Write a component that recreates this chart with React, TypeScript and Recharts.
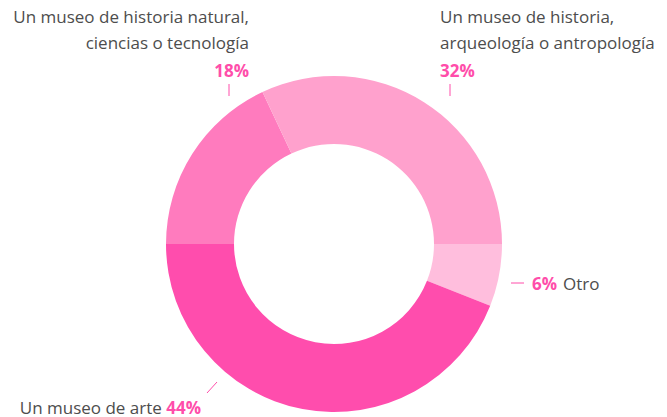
import { PieChart, Pie, Cell } from 'recharts'

// Chart data
const categories = [
  'Otro',
  'Un museo de arte',
  'Un museo de historia natural, ciencias o tecnología',
  'Un museo de historia, arqueología o antropología'
]
const values = [6, 44, 18, 32]
const colors = ['#FFBEDD', '#FF4DAD', '#FF7BBE', '#FFA1CD']
const labelLines = [
  ['Otro'],
  ['Un museo de arte'],
  ['Un museo de historia natural,', 'ciencias o tecnología'],
  ['Un museo de historia,', 'arqueología o antropología']
]

const PINK = '#FF4DAA'
const GREY = '#4D4D4D'
const FONT = '"Open Sans", "Noto Sans", sans-serif'

const data = categories.map((name, i) => ({ name, value: values[i] }))

function renderLabel(props: any) {
  const { cx, cy, index } = props
  const pct = `${values[index]}%`
  const lines = labelLines[index]

  if (index === 0) {
    // Otro, to the right of the ring
    return (
      <g key="lbl-0">
        <line x1={cx + 177} x2={cx + 190} y1={cy + 39} y2={cy + 39} stroke={PINK} strokeWidth={1} />
        <text x={cx + 198} y={cy + 39} dominantBaseline="central" fontFamily={FONT} fontSize={17} fill={GREY}>
          <tspan fill={PINK} fontWeight={700}>{pct}</tspan>
          <tspan dx={6}>{lines[0]}</tspan>
        </text>
      </g>
    )
  }
  if (index === 1) {
    // arte, bottom left
    return (
      <g key="lbl-1">
        <line x1={cx - 127} y1={cy + 149} x2={cx - 117} y2={cy + 138} stroke={PINK} strokeWidth={1} />
        <text x={cx - 133} y={cy + 163} textAnchor="end" dominantBaseline="central" fontFamily={FONT} fontSize={17} fill={GREY}>
          <tspan>{lines[0]} </tspan>
          <tspan fill={PINK} fontWeight={700}>{pct}</tspan>
        </text>
      </g>
    )
  }
  const left = index === 2
  const tx = left ? cx - 85 : cx + 106
  const tickX = left ? cx - 105 : cx + 116
  const anchor = left ? 'end' : 'start'
  return (
    <g key={`lbl-${index}`}>
      {lines.map((l, i) => (
        <text key={i} x={tx} y={cy - 228 + i * 26} textAnchor={anchor} dominantBaseline="central"
          fontFamily={FONT} fontSize={17} fill={GREY}>
          {l}
        </text>
      ))}
      <text x={tx} y={cy - 174} textAnchor={anchor} dominantBaseline="central"
        fontFamily={FONT} fontSize={17} fontWeight={700} fill={PINK}>
        {pct}
      </text>
      <line x1={tickX} x2={tickX} y1={cy - 160} y2={cy - 148} stroke={PINK} strokeWidth={1} />
    </g>
  )
}

export default function App() {
  return (
    <div style={{ position: 'absolute', top: 0, left: 0, width: 667, height: 417, background: '#fff' }}>
      <PieChart width={667} height={417} margin={{ top: 0, right: 0, bottom: 0, left: 0 }}>
        <Pie
          data={data}
          dataKey="value"
          nameKey="name"
          cx={334}
          cy={244}
          innerRadius={100}
          outerRadius={168}
          startAngle={0}
          endAngle={-360}
          stroke="none"
          label={renderLabel}
          labelLine={false}
          isAnimationActive={false}
        >
          {data.map((d, i) => (
            <Cell key={d.name} fill={colors[i]} />
          ))}
        </Pie>
      </PieChart>
    </div>
  )
}
